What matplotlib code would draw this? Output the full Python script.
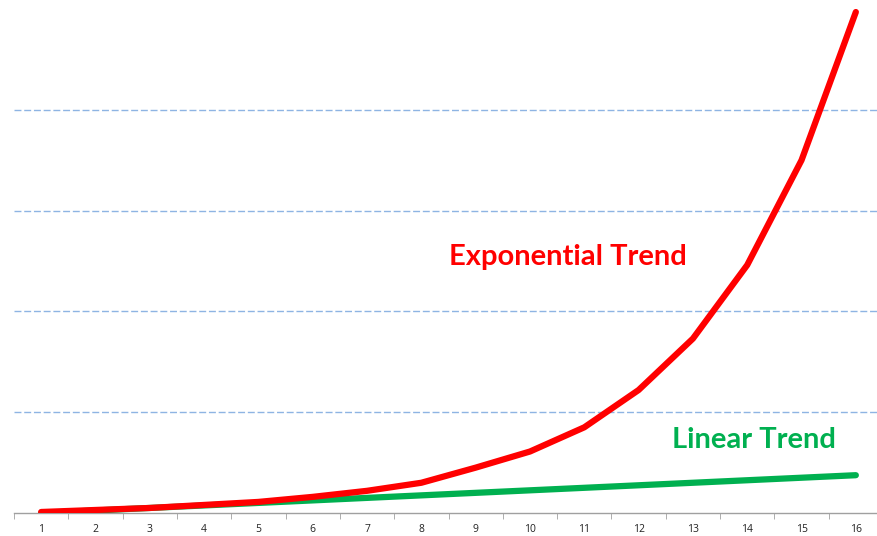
import matplotlib
import matplotlib.pyplot as plt

matplotlib.use('Agg')

# 資料
periods = list(range(1, 17))
period_labels = [str(p) for p in periods]
exponential = [1, 3, 5, 8, 11, 16, 22, 30, 45, 61, 85, 122, 173, 246, 350, 497]
linear = [0, 2.5, 5, 7.5, 10, 12.5, 15, 17.5, 20, 22.5, 25, 27.5, 30, 32.5, 35, 37.5]
grid_levels = [100, 200, 300, 400]

RED = "#FF0000"
GREEN = "#00B050"

fig = plt.figure(figsize=(8.77, 5.36), dpi=100)
# 軸區域：左 14px，底 23px，上 9px
ax = fig.add_axes([14 / 877, 23 / 536, 869 / 877, 504 / 536])

ax.set_xlim(0.5, 16.5)
ax.set_ylim(0, 500)

for level in grid_levels:
    ax.axhline(level, color="#8EB4E3", linewidth=1.0, linestyle=(0, (5, 2)), zorder=1)

ax.plot(periods, linear, color=GREEN, linewidth=4.5, solid_capstyle="round", zorder=3)
ax.plot(periods, exponential, color=RED, linewidth=4.5, solid_capstyle="round", zorder=4)

ax.text(10.7, 254, "Exponential Trend", color=RED, fontsize=21, fontweight="bold",
        family="Lato", ha="center", va="center")
ax.text(14.13, 72, "Linear Trend", color=GREEN, fontsize=21, fontweight="bold",
        family="Lato", ha="center", va="center")

for side in ["left", "right", "top"]:
    ax.spines[side].set_visible(False)
ax.spines["bottom"].set_color("#A0A0A0")
ax.spines["bottom"].set_linewidth(1.0)

ax.set_yticks([])
ax.set_xticks(periods)
ax.set_xticklabels(period_labels, fontsize=7.5, family="Open Sans", color="#222222")
ax.tick_params(axis="x", which="major", length=0, pad=8)
ax.set_xticks([p + 0.5 for p in range(0, 17)], minor=True)
ax.tick_params(axis="x", which="minor", length=4, color="#A0A0A0", direction="out")

fig.savefig("out.png", dpi=100)
plt.close(fig)
